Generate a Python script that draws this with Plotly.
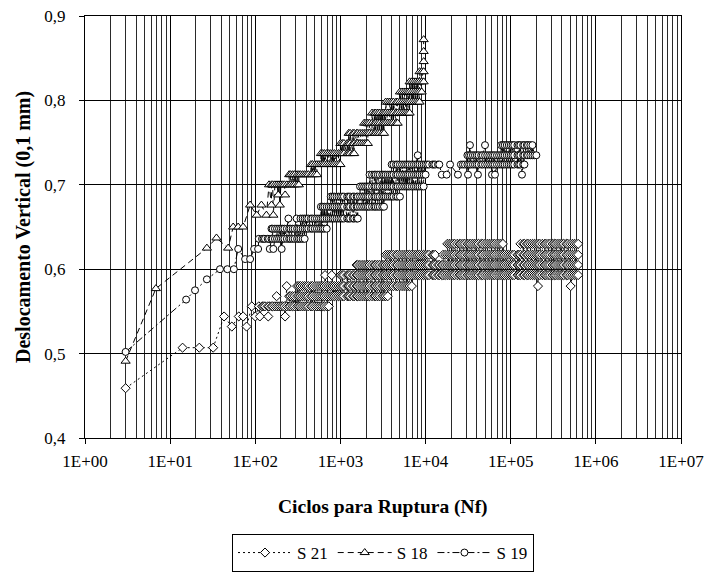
import plotly.graph_objects as go

# ---------------- data ----------------
# Cycle counts at which the (dense) readings were logged
reading_cycles = [
    100, 105, 110, 120, 125, 130, 140, 145, 155, 160, 170, 180, 190, 200, 210, 220, 235, 250, 260, 275,
    290, 310, 325, 340, 360, 380, 400, 420, 450, 470, 500, 530, 560, 590, 620, 650, 690, 730, 770, 810,
    850, 900, 950,
    1000, 1050, 1100, 1200, 1250, 1300, 1400, 1450, 1550, 1600, 1700, 1800, 1900, 2000, 2100, 2200, 2350,
    2500, 2600, 2750, 2900, 3100, 3250, 3400, 3600, 3800, 4000, 4200, 4500, 4700, 5000, 5300, 5600, 5900,
    6200, 6500, 6900, 7300, 7700, 8100, 8500, 9000, 9500,
    10000, 10500, 11000, 12000, 12500, 13000, 14000, 14500, 15500, 16000, 17000, 18000, 19000, 20000, 21000,
    22000, 23500, 25000, 26000, 27500, 29000, 31000, 32500, 34000, 36000, 38000, 40000, 42000, 45000, 47000,
    50000, 53000, 56000, 59000, 62000, 65000, 69000, 73000, 77000, 81000, 85000, 90000, 95000,
    100000, 105000, 110000, 120000, 125000, 130000, 140000, 145000, 155000, 160000, 170000, 180000, 190000,
    200000, 210000, 220000, 235000, 250000, 260000, 275000, 290000, 310000, 325000, 340000, 360000, 380000,
    400000, 420000, 450000, 470000, 500000, 530000, 560000, 590000, 620000,
]

# ---- S 21 (diamonds) ----
s21_single_x = [3, 14, 22, 32, 43, 53, 64, 72, 79, 91, 100, 113, 142, 178, 224, 234, 660, 790, 209000, 506000]
s21_single_y = [0.459, 0.507, 0.507, 0.507, 0.544, 0.532, 0.544, 0.544, 0.532, 0.556, 0.544, 0.544, 0.544,
                0.568, 0.544, 0.580, 0.593, 0.593, 0.580, 0.580]
# displacement level held over a span of readings: level, first cycle, last cycle
s21_band_level = [0.556, 0.568, 0.580, 0.593, 0.605, 0.617, 0.617, 0.630, 0.630]
s21_band_first = [110, 245, 305, 980, 1480, 3300, 16000, 18000, 128000]
s21_band_last = [750, 3600, 7100, 620000, 620000, 13500, 620000, 81000, 620000]

# ---- S 18 (triangles) ----
s18_single_x = [3, 6.8, 27, 35, 48, 55, 63, 72, 87, 104, 118, 135, 155, 163, 186, 194, 224]
s18_single_y = [0.491, 0.577, 0.625, 0.637, 0.625, 0.650, 0.650, 0.650, 0.676, 0.664, 0.676, 0.664, 0.676,
                0.664, 0.688, 0.676, 0.688]
s18_band_level = [0.700, 0.712, 0.724, 0.737, 0.749, 0.761, 0.773, 0.785, 0.798, 0.810, 0.822, 0.834,
                  0.846, 0.858, 0.872]
s18_band_first = [141, 245, 440, 575, 990, 1230, 1840, 2300, 3340, 5000, 6500, 8500, 9500, 9500, 9500]
s18_band_last = [335, 545, 1000, 1480, 2100, 3340, 4740, 6560, 8600, 9000, 9500, 9500, 9500, 9500, 9500]

# ---- S 19 (circles) ----
s19_single_x = [3, 15.4, 19.6, 27, 38.5, 47, 56, 63, 76, 87, 97, 108, 148, 163, 204, 245, 306, 8100,
                15500, 17700, 24000, 31500, 41200, 60300, 65300, 135600, 33200, 49900, 19400]
s19_single_y = [0.502, 0.564, 0.575, 0.588, 0.600, 0.600, 0.600, 0.624, 0.612, 0.612, 0.624, 0.624, 0.624,
                0.624, 0.624, 0.660, 0.660, 0.735, 0.712, 0.712, 0.712, 0.712, 0.712, 0.712, 0.712, 0.712,
                0.747, 0.747, 0.724]
s19_band_level = [0.636, 0.648, 0.660, 0.674, 0.686, 0.698, 0.712, 0.724, 0.724, 0.735, 0.747]
s19_band_first = [110, 155, 335, 575, 750, 1700, 2200, 4000, 25400, 31000, 74800]
s19_band_last = [384, 700, 1600, 3340, 5000, 9840, 10400, 14800, 147000, 200000, 182000]

x_tick_vals = [1, 10, 100, 1000, 10000, 100000, 1000000, 10000000]
x_tick_text = ["1E+00", "1E+01", "1E+02", "1E+03", "1E+04", "1E+05", "1E+06", "1E+07"]


def build(single_x, single_y, levels, firsts, lasts):
    pts = list(zip(single_x, single_y))
    for lv, a, b in zip(levels, firsts, lasts):
        pts += [(c, lv) for c in reading_cycles if a <= c <= b]
    pts.sort(key=lambda p: p[0])
    return [p[0] for p in pts], [p[1] for p in pts]


FONT = "Liberation Serif"

fig = go.Figure()
series = [
    ("S 21", (s21_single_x, s21_single_y, s21_band_level, s21_band_first, s21_band_last), "diamond", 7, "2px,3px"),
    ("S 18", (s18_single_x, s18_single_y, s18_band_level, s18_band_first, s18_band_last), "triangle-up", 8, "6px,4px"),
    ("S 19", (s19_single_x, s19_single_y, s19_band_level, s19_band_first, s19_band_last), "circle", 7, "7px,3px,2px,3px"),
]
for name, data, sym, size, dash in series:
    xs, ys = build(*data)
    fig.add_trace(go.Scatter(
        x=xs, y=ys, name=name, mode="lines+markers",
        line=dict(color="black", width=1, dash=dash),
        marker=dict(symbol=sym, size=size, color="white", line=dict(color="black", width=1)),
    ))

fig.update_layout(
    width=707, height=572, autosize=False,
    margin=dict(l=85, r=26, t=16, b=134, pad=0, autoexpand=False),
    paper_bgcolor="white", plot_bgcolor="white",
    separators=",.",
    font=dict(family=FONT, size=17, color="black"),
    showlegend=True,
    legend=dict(
        orientation="h", x=0.5, xanchor="center", y=-0.2275, yanchor="top",
        bordercolor="black", borderwidth=1, bgcolor="white",
        font=dict(family=FONT, size=17, color="black"),
        itemwidth=54, tracegroupgap=0,
    ),
    xaxis=dict(
        type="log", range=[0, 7], automargin=False,
        tickvals=x_tick_vals, ticktext=x_tick_text,
        ticks="outside", ticklen=5, tickcolor="black", ticklabelstandoff=3,
        showline=True, linecolor="black", linewidth=1, mirror=True,
        showgrid=True, gridcolor="black", gridwidth=1, zeroline=False,
        minor=dict(dtick="D1", showgrid=True, gridcolor="#2a2a2a", gridwidth=1, ticks=""),
        tickfont=dict(family=FONT, size=17, color="black"),
    ),
    yaxis=dict(
        range=[0.4, 0.9], dtick=0.1, tick0=0.4, tickformat=".1f", automargin=False,
        ticks="outside", ticklen=5, tickcolor="black", ticklabelstandoff=10,
        showline=True, linecolor="black", linewidth=1, mirror=True,
        showgrid=True, gridcolor="black", gridwidth=1, zeroline=False,
        tickfont=dict(family=FONT, size=17, color="black"),
    ),
    annotations=[
        dict(text="<b>Ciclos para Ruptura (Nf)</b>", xref="paper", yref="paper",
             x=0.5, y=-0.1635, xanchor="center", yanchor="middle", showarrow=False,
             font=dict(family=FONT, size=19.5, color="black")),
        dict(text="<b>Deslocamento Vertical (0,1 mm)</b>", xref="paper", yref="paper",
             x=-0.104, y=0.5, xanchor="center", yanchor="middle", textangle=-90, showarrow=False,
             font=dict(family=FONT, size=20, color="black")),
    ],
)

fig.write_html(
    "out.html",
    config={"displayModeBar": False},
    post_script="document.body.style.margin='0px';document.body.style.overflow='hidden';",
)
